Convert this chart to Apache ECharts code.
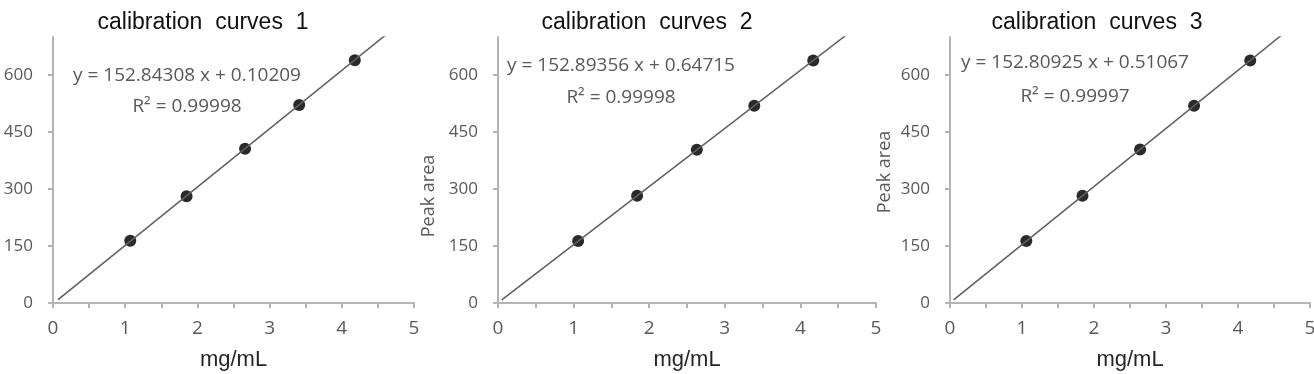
<!DOCTYPE html>
<html>
<head>
	<meta charset="utf-8">
	<script src="https://cdn.jsdelivr.net/npm/echarts@6/dist/echarts.min.js"></script>
	<style>
		body { margin: 0; background: #fff; }
	</style>
</head>
<body>
	<div id="main" style="width:1314px;height:374px;"></div>
</body>
<script type="text/javascript">
// tick positions
var xTicks = [0, 0.5, 1, 1.5, 2, 2.5, 3, 3.5, 4, 4.5, 5];
var xLabels = [0, 1, 2, 3, 4, 5];
var yTicks = [0, 150, 300, 450, 600];

var titles = ['calibration  curves  1', 'calibration  curves  2', 'calibration  curves  3'];
var equations = ['y = 152.84308 x + 0.10209', 'y = 152.89356 x + 0.64715', 'y = 152.80925 x + 0.51067'];
var rsquared = ['R\u00b2 = 0.99998', 'R\u00b2 = 0.99998', 'R\u00b2 = 0.99997'];

// measured points (mg/mL, peak area)
var conc1 = [1.07, 1.85, 2.66, 3.41, 4.18];
var area1 = [164, 281, 406, 521, 639];
var conc2 = [1.06, 1.84, 2.63, 3.39, 4.17];
var area2 = [163, 282, 403, 519, 638];
var conc3 = [1.06, 1.84, 2.64, 3.39, 4.17];
var area3 = [163, 282, 404, 519, 638];

// trend line ends
var fit1 = [[0.07, 9], [4.6, 704]];
var fit2 = [[0.05, 8], [4.6, 704]];
var fit3 = [[0.05, 8], [4.6, 704]];

var grids = [
	{left: 53, top: 37, width: 361, height: 266, outerBoundsMode: 'none', containLabel: false},
	{left: 498, top: 37, width: 378, height: 266, outerBoundsMode: 'none', containLabel: false},
	{left: 950, top: 37, width: 360, height: 266, outerBoundsMode: 'none', containLabel: false}
];
var textPos = [
	{title: 203, eq: 187, eqY: 76, rY: 107, name: -14, nameY: 190},
	{title: 647, eq: 621, eqY: 66, rY: 98, name: 429, nameY: 196},
	{title: 1097, eq: 1075, eqY: 63, rY: 97, name: 885, nameY: 172}
];

function pairs(xs, ys) {
	var out = [];
	for (var i = 0; i < xs.length; i++) out.push([xs[i], ys[i]]);
	return out;
}

var axisGray = '#b4b4b4';
var labelGray = '#595959';
var numFont = '"Open Sans", "Noto Sans", sans-serif';

var xAxes = [], yAxes = [], series = [], graphics = [];
var points = [pairs(conc1, area1), pairs(conc2, area2), pairs(conc3, area3)];
var fits = [fit1, fit2, fit3];

for (var i = 0; i < 3; i++) {
	xAxes.push({
		type: 'value', gridIndex: i, min: 0, max: 5,
		name: 'mg/mL', nameLocation: 'middle', nameGap: 46,
		nameTextStyle: {fontFamily: '"Liberation Sans", Arial, sans-serif', fontSize: 22, color: '#262626'},
		axisLine: {lineStyle: {color: axisGray, width: 2}},
		axisTick: {show: true, length: 5, customValues: xTicks, lineStyle: {color: axisGray, width: 2}},
		axisLabel: {customValues: xLabels, margin: 16, fontFamily: numFont, fontSize: 19, color: labelGray},
		splitLine: {show: false}
	});
	yAxes.push({
		type: 'value', gridIndex: i, min: 0, max: 700,
		axisLine: {show: true, lineStyle: {color: axisGray, width: 2}},
		axisTick: {show: true, length: 5, customValues: yTicks, lineStyle: {color: axisGray, width: 2}},
		axisLabel: {customValues: yTicks, margin: 20, fontFamily: numFont, fontSize: 17, color: labelGray},
		splitLine: {show: false}
	});
	series.push({
		type: 'line', xAxisIndex: i, yAxisIndex: i,
		data: fits[i], showSymbol: false, clip: true, silent: true,
		lineStyle: {color: '#606060', width: 1.6},
		animation: false
	});
	series.push({
		type: 'scatter', xAxisIndex: i, yAxisIndex: i,
		data: points[i], symbolSize: 12,
		itemStyle: {color: '#2a2a2a', opacity: 1},
		animation: false
	});
	var p = textPos[i];
	graphics.push({
		type: 'text', x: p.title, y: 23,
		style: {text: titles[i], align: 'center', verticalAlign: 'middle',
			font: '23px "Liberation Sans", Arial, sans-serif', fill: '#111'}
	});
	graphics.push({
		type: 'text', x: p.eq, y: p.eqY,
		style: {text: equations[i], align: 'center', verticalAlign: 'middle',
			font: '19px ' + numFont, fill: labelGray}
	});
	graphics.push({
		type: 'text', x: p.eq, y: p.rY,
		style: {text: rsquared[i], align: 'center', verticalAlign: 'middle',
			font: '19px ' + numFont, fill: labelGray}
	});
	graphics.push({
		type: 'text', x: p.name, y: p.nameY, rotation: Math.PI / 2,
		style: {text: 'Peak area', align: 'center', verticalAlign: 'middle',
			font: '18px ' + numFont, fill: labelGray}
	});
}

var myChart = echarts.init(document.getElementById('main'));
myChart.setOption({
	backgroundColor: '#fff',
	animation: false,
	grid: grids,
	xAxis: xAxes,
	yAxis: yAxes,
	series: series,
	graphic: graphics
});
</script>
</html>
